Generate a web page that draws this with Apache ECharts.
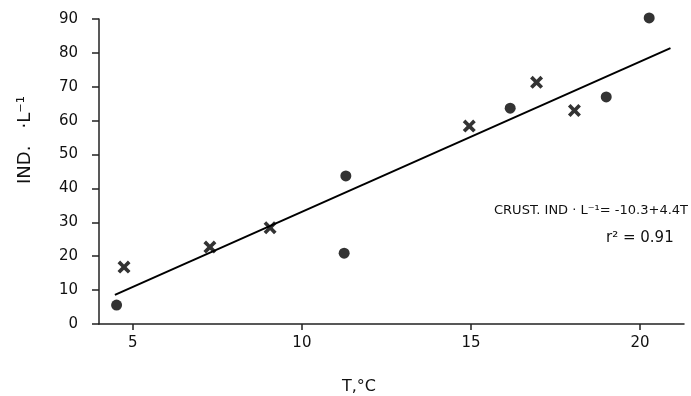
<!DOCTYPE html>
<html>
<head>
<meta charset="utf-8">
<script src="https://cdn.jsdelivr.net/npm/echarts@6/dist/echarts.min.js"></script>
<style>
  html, body { margin: 0; padding: 0; background: #fff; }
  #plot { width: 691px; height: 396px; }
</style>
</head>
<body>
<div id="plot"></div>
<script>
// data: [T in degC, individuals per litre]
var dotPoints = [[4.52, 5.6], [11.3, 43.7], [11.25, 20.9], [16.16, 63.7], [19.0, 67.0], [20.27, 90.3]];
var crossPoints = [[4.74, 16.8], [7.28, 22.7], [9.06, 28.4], [14.95, 58.4], [16.94, 71.3], [18.06, 63.0]];
// ends of the drawn regression line
var fitLine = [[4.47, 8.6], [20.9, 81.4]];
var xTicks = [5, 10, 15, 20];

var FONT = 'DejaVu Sans';
var INK = '#111';

// bold X marker
var crossPath = 'path://M0,2 L2,0 L5,3 L8,0 L10,2 L7,5 L10,8 L8,10 L5,7 L2,10 L0,8 L3,5 Z';

var chart = echarts.init(document.getElementById('plot'));
var option = {
    animation: false,
    backgroundColor: '#fff',
    grid: { left: 99, right: 7, top: 19, bottom: 72 },
    xAxis: {
        type: 'value',
        min: 4,
        max: 21.3,
        splitLine: { show: false },
        axisLine: { lineStyle: { color: '#222', width: 1.5 } },
        axisTick: { customValues: xTicks, length: 6, lineStyle: { color: '#222', width: 1.5 } },
        axisLabel: { customValues: xTicks, margin: 12, fontFamily: FONT, fontSize: 15, color: INK }
    },
    yAxis: {
        type: 'value',
        min: 0,
        max: 90,
        interval: 10,
        splitLine: { show: false },
        axisLine: { show: true, lineStyle: { color: '#222', width: 1.5 } },
        axisTick: { show: true, length: 7, lineStyle: { color: '#222', width: 1.5 } },
        axisLabel: { margin: 21, fontFamily: FONT, fontSize: 15, color: INK }
    },
    series: [
        {
            type: 'line',
            data: fitLine,
            showSymbol: false,
            lineStyle: { color: '#000', width: 2 },
            z: 1
        },
        {
            type: 'scatter',
            data: dotPoints,
            symbol: 'circle',
            symbolSize: 11,
            clip: false,
            itemStyle: { color: '#000' },
            z: 3
        },
        {
            type: 'scatter',
            data: crossPoints,
            symbol: crossPath,
            symbolSize: 13,
            clip: false,
            itemStyle: { color: '#000' },
            z: 3
        }
    ],
    graphic: [
        {
            type: 'text', x: 359, y: 387,
            style: { text: 'T,°C', font: '16px ' + FONT, fill: INK, textAlign: 'center', textVerticalAlign: 'middle' }
        },
        {
            type: 'text', x: 25, y: 140, rotation: Math.PI / 2,
            style: { text: 'IND.   ·L⁻¹', font: '18px ' + FONT, fill: INK, textAlign: 'center', textVerticalAlign: 'middle' }
        },
        {
            type: 'text', x: 688, y: 211,
            style: { text: 'CRUST. IND · L⁻¹= -10.3+4.4T', font: '13px ' + FONT, fill: INK, textAlign: 'right', textVerticalAlign: 'middle' }
        },
        {
            type: 'text', x: 606, y: 238,
            style: { text: 'r² = 0.91', font: '15px ' + FONT, fill: INK, textAlign: 'left', textVerticalAlign: 'middle' }
        }
    ]
};
chart.setOption(option);
</script>
</body>
</html>
